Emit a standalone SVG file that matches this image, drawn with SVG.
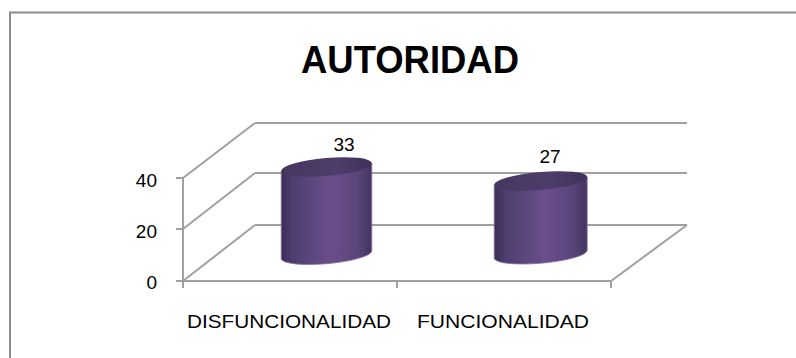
<svg xmlns="http://www.w3.org/2000/svg" width="796" height="358" viewBox="0 0 796 358">
<defs>
<linearGradient id="body" x1="0" y1="0" x2="1" y2="0">
<stop offset="0" stop-color="#3b2d55"/>
<stop offset="0.12" stop-color="#4f3d6e"/>
<stop offset="0.55" stop-color="#6a4f8c"/>
<stop offset="0.85" stop-color="#5a4479"/>
<stop offset="1" stop-color="#433460"/>
</linearGradient>
<linearGradient id="top" x1="0" y1="0" x2="1" y2="0">
<stop offset="0" stop-color="#46375f"/>
<stop offset="0.6" stop-color="#4e3d6b"/>
<stop offset="1" stop-color="#3f3159"/>
</linearGradient>
</defs>
<style>
.grid{stroke:#a0a0a0;stroke-width:2;fill:none}
.border{stroke:#8c8c8c;stroke-width:2;fill:none}
.t{font-family:"Liberation Sans",Arial,sans-serif;fill:#000}
.axis{font-size:19px}
.title{font-size:38px;font-weight:bold;text-anchor:middle}
.lbl{font-size:19px;text-anchor:middle}
.body{fill:url(#body);stroke:#8a75ab;stroke-width:0.8}
.cap{fill:url(#top)}
</style>
<rect width="796" height="358" fill="#ffffff"/>
<path class="border" d="M10,358 V12.5 H796"/>
<g id="title"><text class="t title" x="410" y="73" textLength="218" lengthAdjust="spacingAndGlyphs">AUTORIDAD</text></g>
<g id="connectors">
<path class="grid" d="M255,123 H687 M255,173 H687 M255,225 H687"/>
<path class="grid" d="M183,178 L255,123 M183,229 L255,173 M183,281 L255,225"/>
<path class="grid" d="M183,177 V288 M176,178 H183 M176,229 H183 M176,281 H183"/>
<path class="grid" d="M183,281 H611 L687,225 M397,281 V288 M611,281 V288"/>
</g>
<g id="axis-labels">
<text class="t axis" x="157" y="187" text-anchor="end">40</text>
<text class="t axis" x="157" y="238" text-anchor="end">20</text>
<text class="t axis" x="157" y="289" text-anchor="end">0</text>
</g>
<g id="bar-disfuncionalidad">
<path class="body" d="M281.2,171 L281.2,259 A45.5,9 -5 0 0 371.8,251 L371.8,163 Z"/>
<ellipse class="cap" cx="326.5" cy="167" rx="45.5" ry="9" transform="rotate(-5 326.5 167)"/>
<text class="t lbl" x="344" y="151">33</text>
<text class="t lbl" x="289" y="328" textLength="204" lengthAdjust="spacingAndGlyphs">DISFUNCIONALIDAD</text>
</g>
<g id="bar-funcionalidad">
<path class="body" d="M494.2,185 L494.2,258.5 A46.7,9 -5 0 0 587.2,250.5 L587.2,177 Z"/>
<ellipse class="cap" cx="540.7" cy="181" rx="46.7" ry="9" transform="rotate(-5 540.7 181)"/>
<text class="t lbl" x="550" y="163">27</text>
<text class="t lbl" x="503" y="328" textLength="172" lengthAdjust="spacingAndGlyphs">FUNCIONALIDAD</text>
</g>
</svg>
